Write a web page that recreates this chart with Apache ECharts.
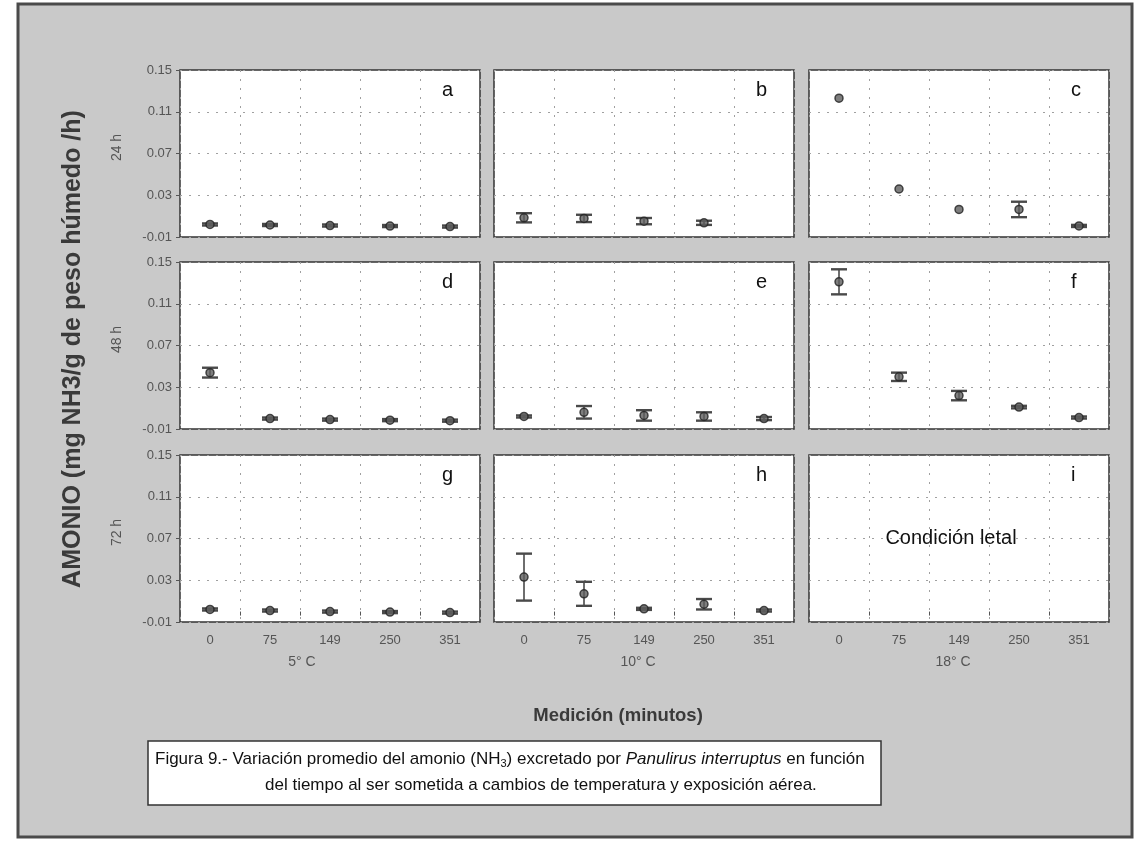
<!DOCTYPE html>
<html><head><meta charset="utf-8">
<script src="https://cdn.jsdelivr.net/npm/echarts@6/dist/echarts.min.js"></script>
<style>html,body{margin:0;padding:0;background:#fff}#c{width:1138px;height:846px}</style>
</head><body><div id="c"></div>
<script>
// ---- data ----
const categories = ['0', '75', '149', '250', '351'];
const temperatures = ['5° C', '10° C', '18° C'];
const hoursLabels = ['24 h', '48 h', '72 h'];
const panelLetters = ['a', 'b', 'c', 'd', 'e', 'f', 'g', 'h', 'i'];
const yMin = -0.01, yMax = 0.15, yStep = 0.04;

const mean_a = [0.002, 0.0015, 0.001, 0.0005, 0.0];
const err_a  = [0.001, 0.001, 0.001, 0.001, 0.001];
const mean_b = [0.0084, 0.0078, 0.0052, 0.0036, null];
const err_b  = [0.0044, 0.0035, 0.003, 0.002, null];
const mean_c = [0.123, 0.036, 0.0164, 0.0164, 0.0006];
const err_c  = [0, 0, 0, 0.0074, 0.001];
const mean_d = [0.044, 0.0, -0.001, -0.0015, -0.002];
const err_d  = [0.0047, 0.001, 0.001, 0.001, 0.001];
const mean_e = [0.002, 0.006, 0.003, 0.002, 0.0];
const err_e  = [0.001, 0.006, 0.005, 0.004, 0.0015];
const mean_f = [0.131, 0.040, 0.022, 0.011, 0.001];
const err_f  = [0.012, 0.004, 0.0045, 0.0012, 0.001];
const mean_g = [0.002, 0.001, 0.0, -0.0005, -0.001];
const err_g  = [0.001, 0.001, 0.001, 0.001, 0.001];
const mean_h = [0.033, 0.017, 0.0026, 0.007, 0.001];
const err_h  = [0.0225, 0.0115, 0.001, 0.005, 0.001];
const mean_i = [null, null, null, null, null];
const err_i  = [null, null, null, null, null];

const panelMeans = [mean_a, mean_b, mean_c, mean_d, mean_e, mean_f, mean_g, mean_h, mean_i];
const panelErrs  = [err_a, err_b, err_c, err_d, err_e, err_f, err_g, err_h, err_i];

// ---- layout ----
const FONT = '"Liberation Sans",Arial,sans-serif';
const colLeft = [180, 494, 809];
const rowTop = [70, 262, 455];
const PW = 300, PH = 167;

const grids = [], xAxes = [], yAxes = [], series = [], graphics = [];

graphics.push({type:'rect', shape:{x:18, y:4, width:1114, height:833}, style:{fill:'#c9c9c9', stroke:'#4a4a4a', lineWidth:3}, z:-10});

for (let r = 0; r < 3; r++) {
  for (let c = 0; c < 3; c++) {
    const k = r * 3 + c;
    grids.push({left: colLeft[c], top: rowTop[r], width: PW, height: PH,
      show: true, backgroundColor: '#ffffff', borderColor: '#333', borderWidth: 1.5, containLabel: false});
    xAxes.push({type: 'category', gridIndex: k, data: categories, boundaryGap: true,
      axisLine: {show: false},
      axisTick: {show: r === 2, inside: false, length: 4, lineStyle: {color: '#555'}},
      axisLabel: {show: r === 2, color: '#555', fontFamily: FONT, fontSize: 13, margin: 12},
      splitLine: {show: true, lineStyle: {color: '#a0a0a0', type: [2, 7], width: 1}}});
    yAxes.push({type: 'value', gridIndex: k, min: yMin, max: yMax, interval: yStep,
      axisLine: {show: false},
      axisTick: {show: c === 0, length: 4, lineStyle: {color: '#555'}},
      axisLabel: {show: c === 0, color: '#555', fontFamily: FONT, fontSize: 13, margin: 8,
        formatter: v => v.toFixed(2)},
      splitLine: {show: true, lineStyle: {color: '#a0a0a0', type: [2, 7], width: 1}}});

    const mean = panelMeans[k], err = panelErrs[k];
    const errData = [], ptData = [];
    mean.forEach((m, i) => {
      if (m == null) return;
      errData.push([i, m, err[i] || 0]);
      ptData.push([i, m]);
    });
    series.push({type: 'custom', xAxisIndex: k, yAxisIndex: k, data: errData, z: 3,
      renderItem(params, api) {
        const x = api.value(0), m = api.value(1), e = api.value(2);
        if (!e) return null;
        const t = api.coord([x, m + e]), b = api.coord([x, m - e]);
        const cap = 8;
        return {type: 'group', children: [
          {type: 'line', shape: {x1: t[0], y1: t[1], x2: b[0], y2: b[1]}, style: {stroke: '#4a4a4a', lineWidth: 1.6}},
          {type: 'line', shape: {x1: t[0] - cap, y1: t[1], x2: t[0] + cap, y2: t[1]}, style: {stroke: '#4a4a4a', lineWidth: 2.4}},
          {type: 'line', shape: {x1: b[0] - cap, y1: b[1], x2: b[0] + cap, y2: b[1]}, style: {stroke: '#4a4a4a', lineWidth: 2.4}}
        ]};
      }});
    series.push({type: 'scatter', xAxisIndex: k, yAxisIndex: k, data: ptData, z: 4,
      symbol: 'circle', symbolSize: 8,
      itemStyle: {color: '#5e5e5e', borderColor: '#222', borderWidth: 1.5}});

    graphics.push({type: 'text', left: colLeft[c] + PW - 38, top: rowTop[r] + 10, z: 10,
      style: {text: panelLetters[k], font: '20px ' + FONT, fill: '#111'}});
  }
}

graphics.push({type: 'text', x: 951, y: 538, z: 10,
  style: {text: 'Condición letal', font: '20px ' + FONT, fill: '#111', textAlign: 'center', textVerticalAlign: 'middle'}});

temperatures.forEach((t, c) => {
  graphics.push({type: 'text', x: colLeft[c] + PW / 2 - (c === 0 ? 28 : 6), y: 662, z: 10,
    style: {text: t, font: '14px ' + FONT, fill: '#555', textAlign: 'center', textVerticalAlign: 'middle'}});
});
hoursLabels.forEach((h, r) => {
  graphics.push({type: 'text', x: 117, y: rowTop[r] + PH / 2 - 6, rotation: Math.PI / 2, z: 10,
    style: {text: h, font: '14px ' + FONT, fill: '#555', textAlign: 'center', textVerticalAlign: 'middle'}});
});
graphics.push({type: 'text', x: 73, y: 349, rotation: Math.PI / 2, z: 10,
  style: {text: 'AMONIO (mg NH3/g de peso húmedo /h)', font: 'bold 25px ' + FONT, fill: '#3a3a3a',
    textAlign: 'center', textVerticalAlign: 'middle'}});
graphics.push({type: 'text', x: 618, y: 716, z: 10,
  style: {text: 'Medición (minutos)', font: 'bold 18.5px ' + FONT, fill: '#3a3a3a',
    textAlign: 'center', textVerticalAlign: 'middle'}});

graphics.push({type: 'rect', shape: {x: 148, y: 741, width: 733, height: 64}, z: 5,
  style: {fill: '#fff', stroke: '#333', lineWidth: 1.5}});
graphics.push({type: 'text', left: 155, top: 749, z: 10,
  style: {text: '{n|Figura 9.- Variación promedio del amonio (NH}{s|3}{n|) excretado por }{i|Panulirus interruptus}{n| en función}',
    rich: {n: {font: '17px ' + FONT, fill: '#111', lineHeight: 22},
           s: {font: '11px ' + FONT, fill: '#111', lineHeight: 22, padding: [9, 0, 0, 0]},
           i: {font: 'italic 17px ' + FONT, fill: '#111', lineHeight: 22}}}});
graphics.push({type: 'text', left: 265, top: 777, z: 10,
  style: {text: 'del tiempo al ser sometida a cambios de temperatura y exposición aérea.',
    font: '17px ' + FONT, fill: '#111'}});

const chart = echarts.init(document.getElementById('c'), null, {renderer: 'canvas'});
chart.setOption({
  backgroundColor: '#ffffff',
  animation: false,
  grid: grids, xAxis: xAxes, yAxis: yAxes, series: series, graphic: graphics
});
</script></body></html>
